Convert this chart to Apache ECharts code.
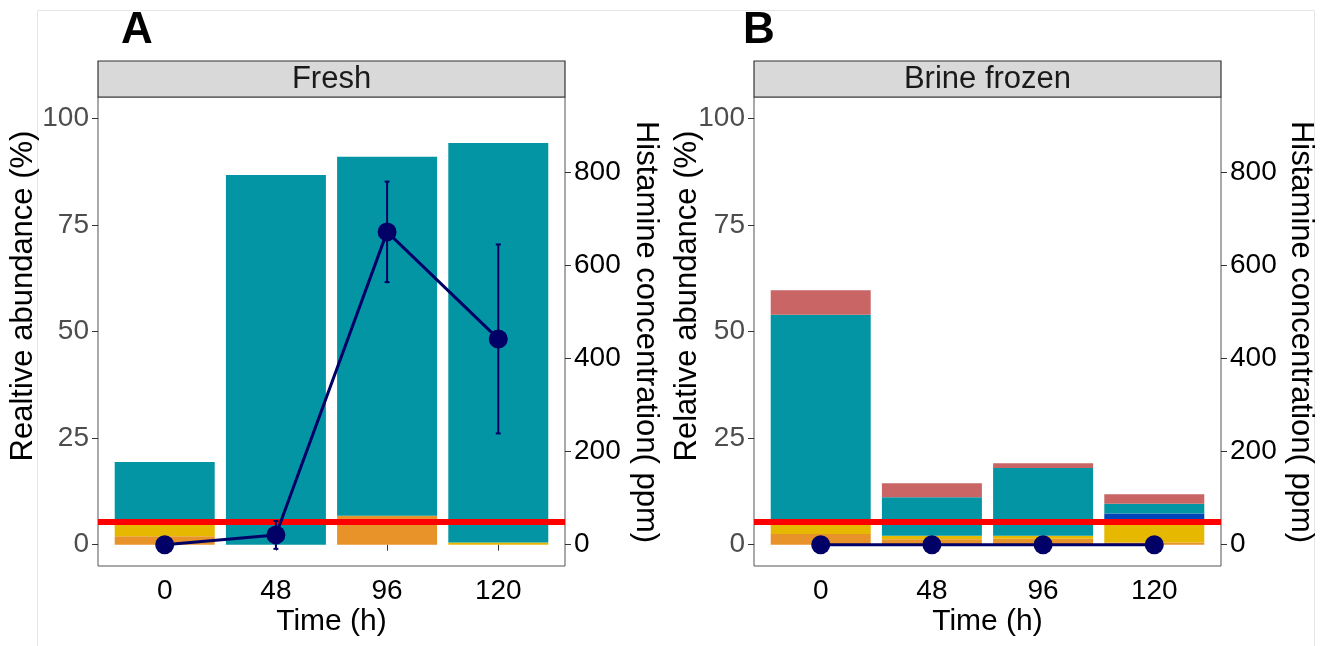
<!DOCTYPE html>
<html><head><meta charset="utf-8">
<script src="https://cdn.jsdelivr.net/npm/echarts@6/dist/echarts.min.js"></script>
<style>html,body{margin:0;padding:0;background:#fff}#c{width:1333px;height:646px}</style>
</head><body><div id="c"></div>
<script>
// ---- data ----
const categories = ['0', '48', '96', '120'];
const leftTicks = [0, 25, 50, 75, 100];
const rightTicks = [0, 200, 400, 600, 800];
const histamineLimit = 50;

// Fresh (panel A), relative abundance (%) per taxon layer, bottom to top
const freshOrange = [2.0, 0, 6.8, 0];
const freshYellow = [3.3, 0, 0, 0.5];
const freshBlue   = [0, 0, 0, 0];
const freshTeal   = [14.1, 86.7, 84.2, 93.7];
const freshSalmon = [0, 0, 0, 0];
const freshHist   = [0, 21, 672, 442];
const freshHistSd = [0, 30, 108, 203];

// Brine frozen (panel B)
const brineOrange = [2.5, 1.3, 1.4, 0.5];
const brineYellow = [2.8, 0.8, 0.7, 4.7];
const brineBlue   = [0, 0, 0, 2.1];
const brineTeal   = [48.6, 9.0, 15.9, 2.3];
const brineSalmon = [5.8, 3.3, 1.1, 2.2];
const brineHist   = [0, 0, 0, 0];
const brineHistSd = [0, 0, 0, 0];

// ---- styles ----
const FONT = 'Liberation Sans, Arial, Helvetica, sans-serif';
const NAVY = '#000066';
const layerColors = ['#E8922A', '#E7B800', '#0046BA', '#0395A4', '#C96565'];

const panels = [
  { left: 98, strip: 'Fresh', letter: 'A', yTitle: 'Realtive abundance (%)',
    layers: [freshOrange, freshYellow, freshBlue, freshTeal, freshSalmon],
    hist: freshHist, sd: freshHistSd,
    letterX: 121, yTitleX: 23, rTitleX: 646 },
  { left: 754, strip: 'Brine frozen', letter: 'B', yTitle: 'Relative abundance (%)',
    layers: [brineOrange, brineYellow, brineBlue, brineTeal, brineSalmon],
    hist: brineHist, sd: brineHistSd,
    letterX: 743, yTitleX: 687, rTitleX: 1301 }
];
const GT = 97, GH = 469, GW = 467;

const grid = [], xAxis = [], yAxis = [], series = [], graphic = [];

graphic.push({ type: 'rect', shape: { x: 37.5, y: 10.5, width: 1277, height: 700 },
  style: { fill: 'none', stroke: '#e6e6e6', lineWidth: 1 }, z: -1 });

panels.forEach((p, pi) => {
  grid.push({ left: p.left, top: GT, width: GW, height: GH, show: true,
    borderColor: '#555', borderWidth: 1, backgroundColor: '#fff' });
  xAxis.push({ type: 'value', gridIndex: pi, min: 0.4, max: 4.6,
    axisLine: { show: false }, splitLine: { show: false },
    axisTick: { show: true, customValues: [1, 2, 3, 4], length: 6, lineStyle: { color: '#333', width: 1 } },
    axisLabel: { customValues: [1, 2, 3, 4], formatter: v => categories[Math.round(v) - 1],
      fontSize: 28, color: '#000', margin: 11, fontFamily: FONT } });
  yAxis.push({ type: 'value', gridIndex: pi, position: 'left', min: -5, max: 105,
    axisLine: { show: false }, splitLine: { show: false },
    axisTick: { show: true, customValues: leftTicks, length: 6, lineStyle: { color: '#333', width: 1 } },
    axisLabel: { customValues: leftTicks, fontSize: 28, color: '#4d4d4d', margin: 9, fontFamily: FONT } });
  yAxis.push({ type: 'value', gridIndex: pi, position: 'right', min: -45.8, max: 961.8,
    axisLine: { show: false }, splitLine: { show: false },
    axisTick: { show: true, customValues: rightTicks, length: 6, lineStyle: { color: '#333', width: 1 } },
    axisLabel: { customValues: rightTicks, fontSize: 28, color: '#000', margin: 9, fontFamily: FONT } });

  p.layers.forEach((arr, li) => {
    // value first so that stacking acts on the abundance dimension
    series.push({ type: 'bar', xAxisIndex: pi, yAxisIndex: pi * 2, stack: 'taxa' + pi,
      barWidth: 100, silent: true, z: 2,
      itemStyle: { color: layerColors[li] },
      encode: { x: 1, y: 0 },
      data: arr.map((v, i) => [v, i + 1]) });
  });

  series.push({ type: 'line', xAxisIndex: pi, yAxisIndex: pi * 2 + 1, z: 6, silent: true,
    symbol: 'circle', symbolSize: 19, showAllSymbol: true,
    lineStyle: { color: NAVY, width: 3 }, itemStyle: { color: NAVY },
    data: p.hist.map((v, i) => [i + 1, v]),
    markLine: { silent: true, symbol: ['none', 'none'], animation: false,
      label: { show: false }, lineStyle: { color: '#ff0000', width: 6, type: 'solid' },
      data: [{ yAxis: histamineLimit }] } });

  series.push({ type: 'custom', xAxisIndex: pi, yAxisIndex: pi * 2 + 1, z: 5, silent: true,
    data: p.hist.map((v, i) => [i + 1, v, p.sd[i]]),
    encode: { x: 0, y: 1 },
    renderItem: (params, api) => {
      const x = api.value(0), m = api.value(1), s = api.value(2);
      if (!s) return null;
      const t = api.coord([x, m + s]), b = api.coord([x, m - s]);
      const c = 2.5;
      const st = { stroke: NAVY, lineWidth: 2 };
      return { type: 'group', children: [
        { type: 'line', shape: { x1: t[0], y1: t[1], x2: b[0], y2: b[1] }, style: st },
        { type: 'line', shape: { x1: t[0] - c, y1: t[1], x2: t[0] + c, y2: t[1] }, style: st },
        { type: 'line', shape: { x1: b[0] - c, y1: b[1], x2: b[0] + c, y2: b[1] }, style: st }
      ] };
    } });

  // strip
  graphic.push({ type: 'rect', shape: { x: p.left, y: 61, width: GW, height: 36 },
    style: { fill: '#D9D9D9', stroke: '#333', lineWidth: 1.2 }, z: 10 });
  graphic.push({ type: 'text', x: p.left + GW / 2, y: 79, z: 11,
    style: { text: p.strip, fontSize: 31, fontFamily: FONT, fill: '#1a1a1a', align: 'center', verticalAlign: 'middle' } });
  // panel letter
  graphic.push({ type: 'text', x: p.letterX, y: 31, z: 11,
    style: { text: p.letter, fontSize: 44, fontWeight: 'bold', fontFamily: FONT, fill: '#000', align: 'left', verticalAlign: 'middle' } });
  // left axis title
  graphic.push({ type: 'text', x: p.yTitleX, y: 296, rotation: Math.PI / 2, z: 11,
    style: { text: p.yTitle, fontSize: 31, fontFamily: FONT, fill: '#000', align: 'center', verticalAlign: 'middle' } });
  // right axis title
  graphic.push({ type: 'text', x: p.rTitleX, y: 332, rotation: -Math.PI / 2, z: 11,
    style: { text: 'Histamine concentration( ppm)', fontSize: 31, fontFamily: FONT, fill: '#000', align: 'center', verticalAlign: 'middle' } });
  // x axis title
  graphic.push({ type: 'text', x: p.left + GW / 2, y: 622, z: 11,
    style: { text: 'Time (h)', fontSize: 30, fontFamily: FONT, fill: '#000', align: 'center', verticalAlign: 'middle' } });
});

const chart = echarts.init(document.getElementById('c'), null, { renderer: 'canvas' });
chart.setOption({ animation: false, backgroundColor: '#fff', grid, xAxis, yAxis, series, graphic });
</script></body></html>
